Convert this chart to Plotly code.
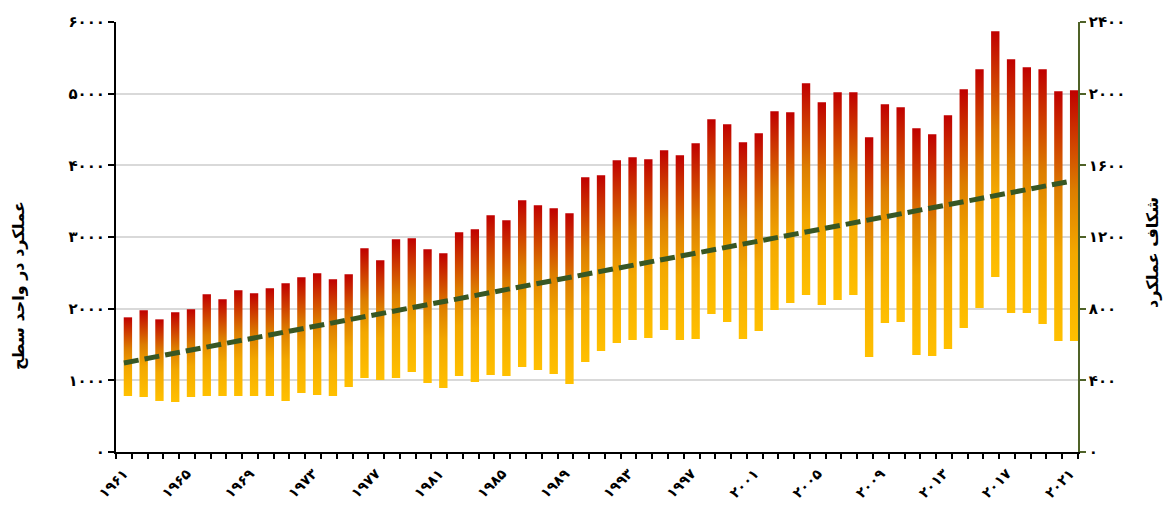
import plotly.graph_objects as go

years = list(range(1961, 2022))
yield_low = [781, 767, 712, 698, 767, 781, 781, 781, 781, 781, 712, 823, 795, 781, 907,
             1033, 1005, 1033, 1116, 963, 893, 1060, 977, 1074, 1060, 1186, 1144, 1088, 949, 1256,
             1409, 1521, 1563, 1591, 1702, 1563, 1577, 1926, 1814, 1577, 1688, 1981, 2079, 2191, 2051,
             2121, 2191, 1326, 1800, 1814, 1353, 1340, 1437, 1730, 2009, 2442, 1940, 1940, 1786, 1549, 1549]
yield_high = [1879, 1977, 1851, 1949, 1991, 2200, 2130, 2256, 2214, 2284, 2353, 2437, 2493, 2409, 2479,
              2842, 2674, 2967, 2981, 2828, 2772, 3065, 3107, 3302, 3233, 3512, 3442, 3400, 3330, 3833,
              3860, 4070, 4112, 4084, 4209, 4140, 4307, 4642, 4572, 4321, 4447, 4753, 4740, 5144, 4879,
              5019, 5019, 4391, 4851, 4809, 4516, 4433, 4698, 5060, 5340, 5870, 5479, 5367, 5340, 5033, 5047]
trend_years = [1961, 2021]
trend_gap = [497, 1511]

left_ticks = [0, 1000, 2000, 3000, 4000, 5000, 6000]
right_ticks = [0, 400, 800, 1200, 1600, 2000, 2400]
label_years = list(range(1961, 2022, 4))

left_title = "عملکرد در واحد سطح"
right_title = "شکاف عملکرد"

FA = str.maketrans("0123456789", "۰۱۲۳۴۵۶۷۸۹")
def fa(v):
    return str(v).translate(FA)

FONT = "DejaVu Sans"
x0_off, x1_off = -0.01, 0.52
gradient = [[0, "#FFC000"], [0.35, "#F3A800"], [0.6, "#DD7E00"], [1, "#C00000"]]

fig = go.Figure()
for yr, lo, hi in zip(years, yield_low, yield_high):
    fig.add_trace(go.Scatter(
        x=[yr + x0_off, yr + x1_off, yr + x1_off, yr + x0_off, yr + x0_off],
        y=[lo, lo, hi, hi, lo],
        mode="lines", fill="toself",
        line=dict(width=0, color="rgba(0,0,0,0)"),
        fillgradient=dict(type="vertical", colorscale=gradient),
        showlegend=False, hoverinfo="skip",
    ))

fig.add_trace(go.Scatter(
    x=trend_years, y=trend_gap, yaxis="y2", mode="lines",
    line=dict(color="#385723", width=5, dash="15px,6px"),
    showlegend=False, hoverinfo="skip",
))

title_font = dict(family=FONT, size=16, weight="bold", color="black")
fig.update_layout(
    width=1171, height=507,
    margin=dict(l=108, r=101, t=14, b=63),
    paper_bgcolor="white", plot_bgcolor="white",
    font=dict(family=FONT, size=15, color="black"),
    xaxis=dict(
        range=[1960.5, 2021.5], showgrid=False, zeroline=False, automargin=False,
        tickmode="array", tickvals=label_years, ticktext=[fa(y) for y in label_years],
        tickangle=-45, ticks="", showline=True, linecolor="black", linewidth=2,
        ticklabelstandoff=6,
        tickfont=dict(family=FONT, size=14, weight="bold"),
        minor=dict(ticks="outside", tickmode="linear", tick0=1960.5, dtick=1,
                   ticklen=5, tickwidth=1.5, tickcolor="black", showgrid=False),
    ),
    yaxis=dict(
        range=[0, 6000], tickmode="array", tickvals=left_ticks, automargin=False,
        ticktext=[fa(v) for v in left_ticks],
        showgrid=True, gridcolor="#D9D9D9", gridwidth=1.5, zeroline=False,
        showline=True, linecolor="black", linewidth=2,
        ticks="outside", ticklen=6, tickwidth=1.5, tickcolor="black",
        tickfont=dict(family=FONT, size=15, weight="bold"),
    ),
    yaxis2=dict(
        range=[0, 2400], overlaying="y", side="right", tickmode="array", automargin=False,
        tickvals=right_ticks, ticktext=[fa(v) for v in right_ticks],
        showgrid=False, zeroline=False,
        showline=True, linecolor="#4F6228", linewidth=1.5,
        ticks="outside", ticklen=6, tickwidth=1.5, tickcolor="#4F6228",
        tickfont=dict(family=FONT, size=15, weight="bold"),
    ),
    annotations=[
        dict(text=left_title, xref="paper", yref="paper", x=-0.102, y=0.388,
             xanchor="center", yanchor="middle", textangle=-90, showarrow=False, font=title_font),
        dict(text=right_title, xref="paper", yref="paper", x=1.078, y=0.463,
             xanchor="center", yanchor="middle", textangle=-90, showarrow=False, font=title_font),
    ],
)

fig.write_html("out.html")
